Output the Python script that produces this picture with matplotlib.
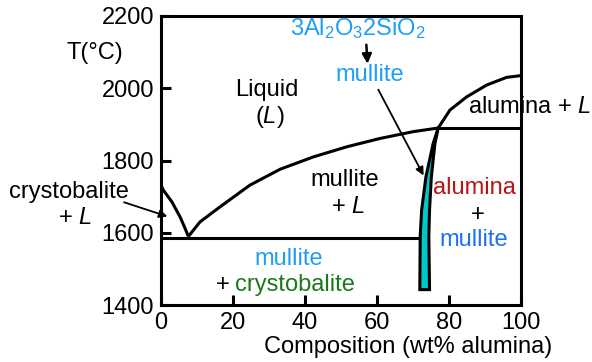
import matplotlib
matplotlib.use('Agg')
import matplotlib.pyplot as plt

plt.rcParams['font.family'] = ['Liberation Sans', 'DejaVu Sans']
plt.rcParams['mathtext.fontset'] = 'custom'
plt.rcParams['mathtext.rm'] = 'Liberation Sans'
plt.rcParams['mathtext.it'] = 'Liberation Sans:italic'

# --- 相図データ (wt% alumina, °C) ---
# 左側の液相線 (crystobalite + L)
silica_liq_x = [0, 0.65, 3.0, 5.3, 6.7, 7.6]
silica_liq_t = [1732, 1718, 1686, 1644, 1612, 1590]
# 右側の液相線 (mullite + L)
mullite_liq_x = [7.6, 10.8, 16.4, 24.7, 33.1, 42.3, 51.6, 60.8, 70.1, 77.0]
mullite_liq_t = [1590, 1630, 1672, 1732, 1776, 1810, 1838, 1861, 1880, 1890]
# alumina + L の液相線
alumina_liq_x = [77.0, 80.3, 84.9, 90.5, 96.0, 100]
alumina_liq_t = [1890, 1940, 1976, 2009, 2030, 2035]
# 共晶線・包晶線
eutectic_x = [0, 72.0]
eutectic_t = [1587, 1587]
peritectic_x = [77.0, 100]
peritectic_t = [1890, 1890]
# ムライト単相領域
mullite_left_x = [77.0, 75.6, 73.6, 72.4, 72.0, 71.9]
mullite_left_t = [1890, 1847, 1755, 1663, 1589, 1443]
mullite_right_x = [74.6, 74.4, 74.6, 75.1, 76.1, 77.0]
mullite_right_t = [1443, 1589, 1663, 1755, 1847, 1890]

xticks = [0, 20, 40, 60, 80, 100]
yticks = [1400, 1600, 1800, 2000, 2200]

LW = 2.2
fs = 17

fig = plt.figure(figsize=(5.92, 3.62), dpi=100)
ax = fig.add_axes([0.272, 0.157, 0.608, 0.799])

ax.fill(mullite_left_x + mullite_right_x, mullite_left_t + mullite_right_t,
        facecolor='#00c8c8', edgecolor='black', lw=LW, joinstyle='miter', zorder=3)
for xs, ts in [(silica_liq_x, silica_liq_t), (mullite_liq_x, mullite_liq_t),
               (alumina_liq_x, alumina_liq_t), (eutectic_x, eutectic_t),
               (peritectic_x, peritectic_t)]:
    ax.plot(xs, ts, color='black', lw=LW, solid_capstyle='butt', zorder=2)

ax.set_xlim(0, 100)
ax.set_ylim(1400, 2200)
ax.set_xticks(xticks)
ax.set_yticks(yticks)
ax.tick_params(direction='in', length=7, width=LW, labelsize=fs, pad=5)
for s in ax.spines.values():
    s.set_linewidth(LW)

# ラベル
fig.text(95 / 592, 1 - 53 / 362, 'T(°C)', fontsize=fs, ha='center', va='center')
fig.text(408 / 592, 1 - 347 / 362, 'Composition (wt% alumina)', fontsize=fs,
         ha='center', va='center')

lblue = '#1e9ff5'
kw = dict(fontsize=fs, ha='center', va='center', clip_on=False)
ax.text(29.4, 1995, 'Liquid', **kw)
ax.text(30.3, 1920, '($L$)', **kw)
ax.text(54.6, 2166, r'3Al$_2$O$_3$2SiO$_2$', color=lblue, **kw)
ax.text(58, 2037, 'mullite', color=lblue, **kw)
ax.text(102.5, 1949, 'alumina + $L$', **kw)
ax.text(51.1, 1746, 'mullite', **kw)
ax.text(52, 1672, '+ $L$', **kw)
ax.text(87.2, 1723, 'alumina', color='#b81414', **kw)
ax.text(88.1, 1649, '+', **kw)
ax.text(86.8, 1580, 'mullite', color='#1f70f0', **kw)
ax.text(35.6, 1529, 'mullite', color=lblue, **kw)
ax.text(17.2, 1455, '+', **kw)
ax.text(37.3, 1455, 'crystobalite', color='#1a7a1a', **kw)
ax.text(-25.7, 1713, 'crystobalite', **kw)
ax.text(-23.9, 1640, '+ $L$', **kw)

# 矢印
ax.annotate('', xy=(57.4, 2060), xytext=(57.0, 2128),
            arrowprops=dict(arrowstyle='-|>', color='black', lw=1.8, mutation_scale=14))
ax.annotate('', xy=(73.3, 1752), xytext=(60.0, 2003),
            arrowprops=dict(arrowstyle='-|>', color='black', lw=1.3, mutation_scale=12), zorder=4)
ax.annotate('', xy=(2.5, 1643), xytext=(-11.0, 1687),
            arrowprops=dict(arrowstyle='-|>', color='black', lw=1.3, mutation_scale=12),
            annotation_clip=False)

fig.savefig('out.png', dpi=100)
